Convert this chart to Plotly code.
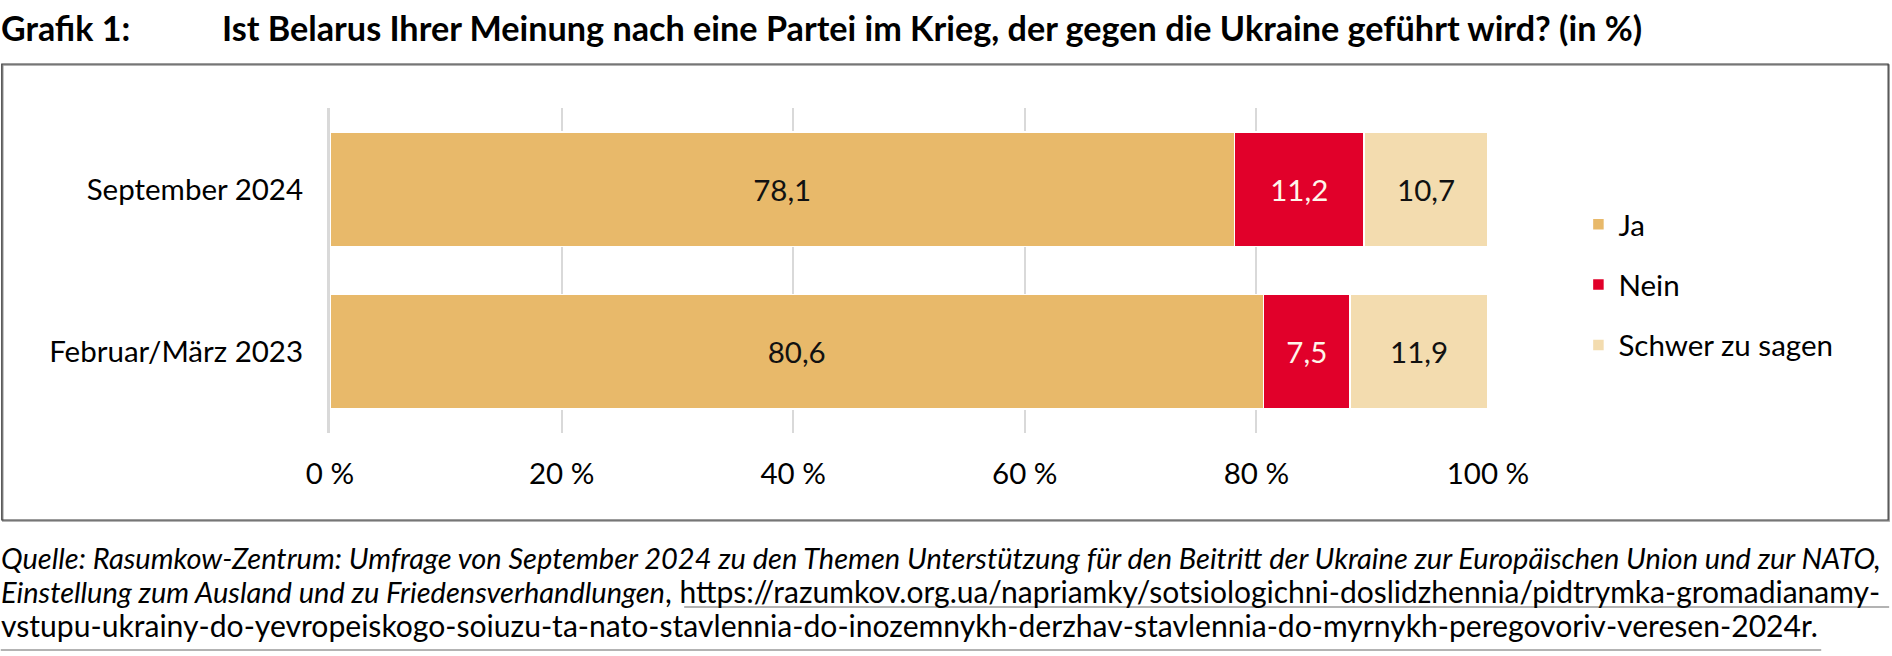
import plotly.graph_objects as go

categories = ["September 2024", "Februar/März 2023"]
series_names = ["Ja", "Nein", "Schwer zu sagen"]
ja = [78.1, 80.6]
nein = [11.2, 7.5]
schwer = [10.7, 11.9]
tick_values = [0, 20, 40, 60, 80, 100]
tick_labels = ["0 %", "20 %", "40 %", "60 %", "80 %", "100 %"]

colors = ["#E8B96A", "#E1002A", "#F3DCAF"]
label_colors = ["#111111", "#FFF6EA", "#111111"]

W, H = 1892, 656
L, R, T, B = 329.5, 403.5, 108, 223
PW, PH = W - L - R, H - T - B


def px2x(px):
    return (px - L) / PW


def py2y(py):
    return (H - B - py) / PH


FONT = "Lato, 'Open Sans', sans-serif"
FS = 29.5

fig = go.Figure()
for name, vals, c, lc in zip(series_names, [ja, nein, schwer], colors, label_colors):
    fig.add_trace(go.Bar(
        y=categories, x=vals, name=name, orientation="h",
        marker=dict(color=c, line=dict(color="white", width=1.5)),
        texttemplate="%{x:.1f}", textposition="inside", insidetextanchor="middle",
        textfont=dict(color=lc, size=FS, family=FONT),
        legendgroup=name, hoverinfo="skip",
    ))

shapes = []
# outer frame (with light shadow)
shapes.append(dict(type="rect", xref="paper", yref="paper",
                   x0=px2x(2), x1=px2x(1890), y0=py2y(521), y1=py2y(65),
                   line=dict(color="#9a9a9a", width=1.5), layer="below"))
shapes.append(dict(type="rect", xref="paper", yref="paper",
                   x0=px2x(1), x1=px2x(1889), y0=py2y(520), y1=py2y(64),
                   line=dict(color="#3a3a3a", width=1.2), layer="below"))
# link underlines
shapes.append(dict(type="line", xref="paper", yref="paper",
                   x0=px2x(684), x1=px2x(1890), y0=py2y(607), y1=py2y(607),
                   line=dict(color="#9a9a9a", width=1.5)))
shapes.append(dict(type="line", xref="paper", yref="paper",
                   x0=px2x(0), x1=px2x(1822), y0=py2y(650), y1=py2y(650),
                   line=dict(color="#9a9a9a", width=1.5)))

IT = '<span style="font-size:29px"><i>{}</i></span>'

annotations = [
    dict(text="<b>Grafik 1:</b>", xref="paper", yref="paper", x=px2x(-2), y=py2y(27),
         xanchor="left", yanchor="middle", showarrow=False,
         font=dict(size=34, family=FONT, color="#000000")),
    dict(text="<b>Ist Belarus Ihrer Meinung nach eine Partei im Krieg, der gegen die Ukraine geführt wird? (in %)</b>",
         xref="paper", yref="paper", x=px2x(219), y=py2y(27),
         xanchor="left", yanchor="middle", showarrow=False,
         font=dict(size=34.2, family=FONT, color="#000000")),
    dict(text=IT.format("Quelle: Rasumkow-Zentrum: Umfrage von September 2024 zu den Themen Unterstützung für den Beitritt der Ukraine zur Europäischen Union und zur NATO,"),
         xref="paper", yref="paper", x=px2x(-2), y=py2y(557),
         xanchor="left", yanchor="middle", showarrow=False,
         font=dict(size=30, family=FONT, color="#000000")),
    dict(text=IT.format("Einstellung zum Ausland und zu Friedensverhandlungen") + ", https://razumkov.org.ua/napriamky/sotsiologichni-doslidzhennia/pidtrymka-gromadianamy-",
         xref="paper", yref="paper", x=px2x(-2), y=py2y(591),
         xanchor="left", yanchor="middle", showarrow=False,
         font=dict(size=30, family=FONT, color="#000000")),
    dict(text="vstupu-ukrainy-do-yevropeiskogo-soiuzu-ta-nato-stavlennia-do-inozemnykh-derzhav-stavlennia-do-myrnykh-peregovoriv-veresen-2024r.",
         xref="paper", yref="paper", x=px2x(-2), y=py2y(625),
         xanchor="left", yanchor="middle", showarrow=False,
         font=dict(size=30.1, family=FONT, color="#000000")),
]

fig.update_layout(
    width=W, height=H, autosize=False,
    margin=dict(l=L, r=R, t=T, b=B, pad=0),
    barmode="stack", bargap=0.294,
    plot_bgcolor="white", paper_bgcolor="white",
    separators=", ",
    font=dict(family=FONT, size=FS, color="#000000"),
    showlegend=True,
    legend=dict(x=px2x(1579), y=py2y(285), xanchor="left", yanchor="middle",
                orientation="v", traceorder="grouped", tracegroupgap=19,
                font=dict(size=FS, family=FONT, color="#000000"),
                bgcolor="rgba(0,0,0,0)", borderwidth=0),
    shapes=shapes, annotations=annotations,
)
fig.update_xaxes(range=[0, 100], tickvals=tick_values, ticktext=tick_labels,
                 showgrid=True, gridcolor="#D9D9D9", gridwidth=1.5, zeroline=False,
                 showline=False, ticks="", ticklabelstandoff=20,
                 tickfont=dict(size=FS, family=FONT, color="#000000"), fixedrange=True)
fig.update_yaxes(autorange="reversed", showgrid=False, zeroline=False,
                 showline=True, linecolor="#D9D9D9", linewidth=3,
                 ticks="", ticklabelstandoff=18,
                 tickfont=dict(size=FS, family=FONT, color="#000000"), fixedrange=True)

fig.write_html("out.html", config={"displayModeBar": False},
               post_script="document.body.style.margin='0';document.body.style.overflow='hidden';")
